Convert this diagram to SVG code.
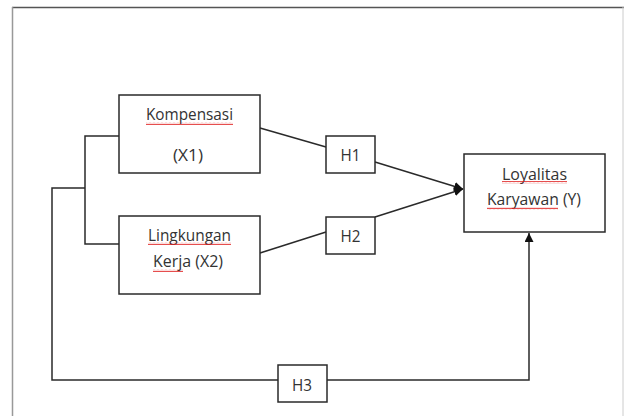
<svg xmlns="http://www.w3.org/2000/svg" width="624" height="416" viewBox="0 0 624 416">
<defs>
<style>
.box{fill:#fff;stroke:#2a2a2a;stroke-width:1.5}
.ln{fill:none;stroke:#2a2a2a;stroke-width:1.5}
.t{font-family:"Open Sans","Liberation Sans",sans-serif;font-size:16px;fill:#333;text-anchor:middle}
.sq{fill:url(#wave)}
</style>
<pattern id="wave" patternUnits="userSpaceOnUse" x="0" y="0" width="4" height="3">
<path d="M0,2.2 L1,0.8 L2,2.2 L3,0.8 L4,2.2" fill="none" stroke="#e02020" stroke-width="0.8"/>
</pattern>
<marker id="arr" viewBox="0 0 10 10" refX="10" refY="5" markerWidth="9" markerHeight="9" markerUnits="userSpaceOnUse" orient="auto">
<path d="M0,0 L10,5 L0,10 z" fill="#111"/>
</marker>
</defs>
<rect width="624" height="416" fill="#fff"/>
<g id="frame">
<line x1="12" y1="7.5" x2="624" y2="7.5" stroke="#555" stroke-width="1.5"/>
<line x1="12.5" y1="7" x2="12.5" y2="416" stroke="#999" stroke-width="1.5"/>
<line x1="623" y1="7" x2="623" y2="416" stroke="#ccc" stroke-width="1"/>
</g>
<g id="connectors">
<polyline class="ln" points="119,136 85,136 85,244 119,244"/>
<polyline class="ln" points="85,188 52,188 52,380 278,380"/>
<polyline class="ln" points="327,380 529,380 529,233" marker-end="url(#arr)"/>
<line class="ln" x1="260" y1="128" x2="326" y2="147"/>
<line class="ln" x1="260" y1="253" x2="326" y2="232"/>
<line class="ln" x1="375" y1="162" x2="463" y2="189" marker-end="url(#arr)"/>
<line class="ln" x1="375" y1="217" x2="463" y2="189" marker-end="url(#arr)"/>
</g>
<g id="kompensasi">
<rect class="box" x="119" y="95" width="141" height="78"/>
<text class="t" x="189.5" y="120" textLength="87" lengthAdjust="spacingAndGlyphs">Kompensasi</text>
<rect class="sq" x="146" y="122" width="87" height="3"/>
<text class="t" x="188" y="161" textLength="30" lengthAdjust="spacingAndGlyphs">(X1)</text>
</g>
<g id="lingkungan">
<rect class="box" x="119" y="216" width="141" height="78"/>
<text class="t" x="189.5" y="241" textLength="83" lengthAdjust="spacingAndGlyphs">Lingkungan</text>
<rect class="sq" x="148" y="242" width="83" height="3"/>
<text class="t" x="188" y="267" textLength="70" lengthAdjust="spacingAndGlyphs">Kerja (X2)</text>
<rect class="sq" x="153" y="269" width="30" height="3"/>
</g>
<g id="h1">
<rect class="box" x="326" y="136" width="49" height="37"/>
<text class="t" x="350.5" y="161" textLength="20" lengthAdjust="spacingAndGlyphs">H1</text>
</g>
<g id="h2">
<rect class="box" x="326" y="217" width="49" height="37"/>
<text class="t" x="350.5" y="242" textLength="20" lengthAdjust="spacingAndGlyphs">H2</text>
</g>
<g id="h3">
<rect class="box" x="278" y="365" width="49" height="37"/>
<text class="t" x="302" y="391" textLength="20" lengthAdjust="spacingAndGlyphs">H3</text>
</g>
<g id="loyalitas">
<rect class="box" x="464" y="154" width="141" height="78"/>
<text class="t" x="534.5" y="180" textLength="65" lengthAdjust="spacingAndGlyphs">Loyalitas</text>
<rect class="sq" x="502" y="181" width="65" height="3"/>
<text class="t" x="534" y="205" textLength="94" lengthAdjust="spacingAndGlyphs">Karyawan (Y)</text>
<rect class="sq" x="487" y="207" width="71" height="3"/>
</g>
</svg>
